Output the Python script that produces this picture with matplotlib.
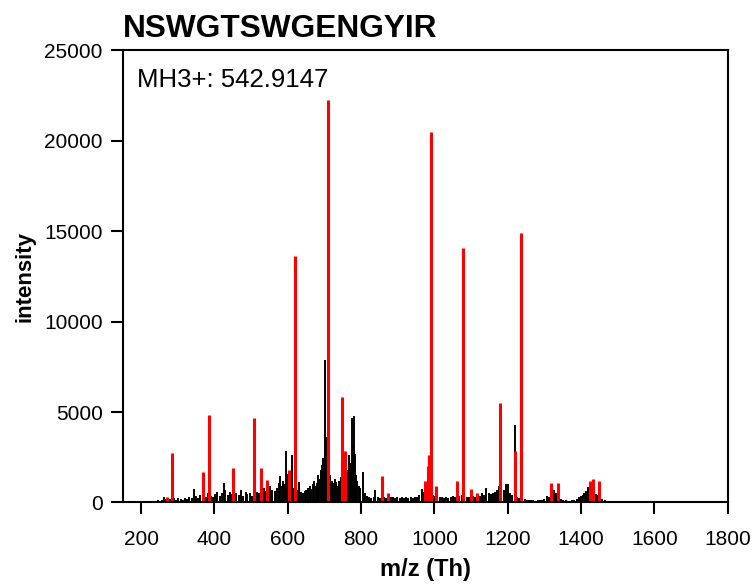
import numpy as np
import matplotlib
matplotlib.use("Agg")
import matplotlib.pyplot as plt

# --- peptide / precursor info ---
peptide = "NSWGTSWGENGYIR"
precursor_label = "MH3+: 542.9147"

# --- unmatched (black) peaks (10 per row) ---
black_mz = [228, 234, 240, 246, 252, 258, 262, 268, 274, 280,
            290, 296, 302, 308, 314, 320, 326, 332, 338, 345,
            350, 356, 362, 370, 376, 382, 390, 396, 402, 408,
            414, 420, 425, 430, 436, 442, 448, 454, 460, 466,
            472, 479, 485, 490, 496, 502, 511, 516, 522, 530,
            536, 540, 548, 552, 558, 564, 570, 575, 579, 584,
            588, 592, 596, 600, 604, 608, 613, 618, 623, 627,
            631, 636, 641, 646, 650, 655, 660, 664, 668, 672,
            676, 680, 683, 686, 690, 693, 695, 698, 700, 702,
            705, 712, 716, 720, 724, 728, 732, 736, 740, 744,
            748, 752, 756, 759, 763, 766, 770, 773, 776, 778,
            780, 783, 786, 790, 794, 798, 805, 810, 816, 822,
            828, 834, 839, 845, 851, 857, 863, 869, 875, 881,
            887, 893, 899, 905, 911, 917, 923, 929, 935, 941,
            947, 953, 959, 967, 972, 978, 984, 990, 996, 1002,
            1008, 1014, 1020, 1026, 1032, 1038, 1044, 1050, 1056, 1062,
            1068, 1074, 1082, 1088, 1094, 1100, 1106, 1112, 1118, 1124,
            1130, 1136, 1142, 1148, 1154, 1160, 1166, 1172, 1176, 1183,
            1190, 1196, 1200, 1206, 1212, 1219, 1226, 1232, 1240, 1246,
            1252, 1258, 1264, 1270, 1276, 1282, 1288, 1294, 1300, 1306,
            1312, 1318, 1326, 1332, 1340, 1346, 1352, 1358, 1364, 1370,
            1376, 1382, 1388, 1394, 1400, 1404, 1408, 1414, 1418, 1422,
            1428, 1436, 1440, 1446, 1452, 1458, 1464, 1470, 1476]
black_int = [40, 60, 90, 120, 80, 150, 300, 180, 120, 200,
             260, 150, 220, 180, 160, 240, 200, 300, 250, 770,
             380, 260, 420, 340, 300, 500, 350, 280, 450, 600,
             380, 520, 1090, 700, 400, 560, 480, 320, 500, 420,
             680, 380, 600, 450, 520, 380, 1270, 600, 500, 700,
             800, 650, 550, 900, 700, 620, 800, 1100, 1450, 900,
             1200, 1000, 2830, 1550, 1100, 900, 2650, 800, 600, 700,
             1140, 600, 500, 650, 700, 800, 900, 750, 1000, 1200,
             900, 1100, 1500, 1320, 1800, 2100, 2480, 1600, 2000, 7890,
             3600, 2430, 1500, 1200, 1100, 1300, 1160, 900, 1200, 1400,
             1000, 1300, 1500, 2150, 1800, 2650, 2200, 2000, 4690, 3200,
             4770, 2700, 1500, 1200, 900, 800, 1700, 500, 350, 300,
             250, 280, 680, 300, 250, 200, 300, 260, 350, 300,
             280, 240, 320, 260, 300, 220, 280, 240, 300, 260,
             280, 320, 400, 740, 600, 500, 450, 520, 400, 350,
             300, 280, 320, 260, 300, 220, 280, 350, 300, 260,
             380, 420, 450, 320, 280, 400, 350, 300, 450, 380,
             500, 420, 810, 500, 480, 520, 600, 700, 900, 1860,
             700, 1000, 1000, 500, 400, 4270, 300, 250, 200, 180,
             150, 120, 140, 120, 100, 130, 110, 150, 200, 350,
             300, 400, 700, 500, 250, 200, 150, 120, 100, 90,
             120, 150, 200, 300, 350, 400, 500, 650, 870, 700,
             600, 500, 450, 400, 300, 200, 150, 100, 60]

# --- matched fragment ions (red) ---
red_mz = [270, 285, 368, 386, 450, 507, 526, 544, 603, 620, 708.5, 748, 755, 857,
          874, 975, 982, 986.5, 992, 1004, 1061, 1078, 1100, 1116, 1179, 1219, 1236,
          1319, 1336, 1424, 1432.5, 1449]
red_int = [330, 2740, 1670, 4860, 1900, 4690, 1880, 1270, 1780, 13650, 22260, 5810,
           2830, 1490, 530, 1200, 2000, 2610, 20470, 900, 1180, 14070, 770, 530, 5500,
           2870, 14900, 1050, 1100, 1200, 1300, 1200]

plt.rcParams['font.family'] = ['Liberation Sans', 'DejaVu Sans']

fig = plt.figure(figsize=(7.52, 5.84), dpi=100)
ax = fig.add_axes([0.1632, 0.1396, 0.8045, 0.7740])

ax.vlines(black_mz, 0, black_int, colors='black', linewidth=1.4)
ax.vlines(red_mz, 0, red_int, colors='#ff0000', linewidth=2.2)

ax.set_xlim(150, 1800)
ax.set_ylim(0, 25000)
ax.set_xticks(np.arange(200, 1801, 200))
ax.set_yticks(np.arange(0, 25001, 5000))

for sp in ax.spines.values():
    sp.set_linewidth(1.5)
ax.tick_params(axis='both', direction='out', length=8.5, width=1.5,
               labelsize=15, pad=6)
ax.tick_params(axis='x', pad=11)

ax.set_xlabel('m/z (Th)', fontsize=17, fontweight='bold', labelpad=7)
ax.set_ylabel('intensity', fontsize=16, fontweight='bold', labelpad=6)

ax.text(0.0, 1.03, peptide, transform=ax.transAxes, fontsize=22.8,
        fontweight='bold', ha='left', va='baseline')
ax.text(0.024, 0.919, precursor_label, transform=ax.transAxes, fontsize=18.5,
        ha='left', va='baseline')

fig.savefig('out.png', dpi=100)
